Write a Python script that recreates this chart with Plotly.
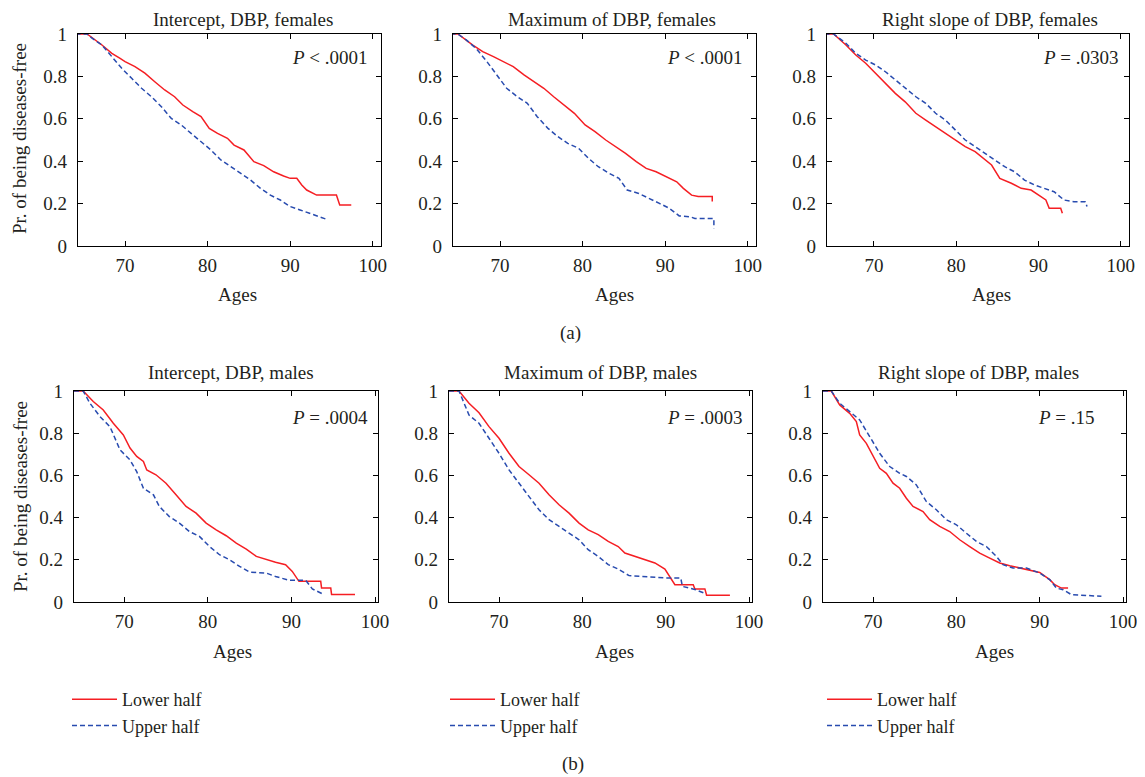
import plotly.graph_objects as go

W, H = 1145, 777
OFF = 8  # the page body adds an 8px margin around the figure
FONT = "Liberation Serif"
FS = 19
TXT = "#231f20"
RED = "rgb(245,30,35)"
BLUE = "rgb(40,75,175)"

# ---- data (age, probability disease-free) ----
# top row: females
ages_int_f_low = [64.0, 65.4, 67.2, 68.4, 69.4, 70.0, 71.2, 72.4, 73.6, 74.8, 76.0, 77.0, 78.2, 79.2, 80.2, 81.2,
                  82.4, 83.2, 84.4, 85.6, 86.8, 88.0, 89.2, 90.0, 90.8, 91.4, 92.0, 93.2, 95.6, 96.0, 97.4]
surv_int_f_low = [1.0, 1.0, 0.948, 0.909, 0.885, 0.87, 0.846, 0.815, 0.775, 0.736, 0.704, 0.665, 0.634, 0.61, 0.555,
                  0.531, 0.508, 0.476, 0.453, 0.398, 0.379, 0.35, 0.33, 0.319, 0.319, 0.288, 0.264, 0.24, 0.24, 0.193,
                  0.193]
ages_int_f_up = [64.0, 65.4, 66.0, 67.2, 68.4, 69.6, 70.8, 72.0, 73.2, 74.4, 75.6, 76.8, 78.0, 79.2, 80.4, 81.6,
                 82.8, 84.0, 85.2, 86.4, 87.6, 88.8, 90.0, 91.2, 92.4, 93.6, 94.4]
surv_int_f_up = [1.0, 1.0, 0.98, 0.948, 0.893, 0.838, 0.791, 0.744, 0.704, 0.657, 0.602, 0.571, 0.531, 0.492, 0.453,
                 0.406, 0.374, 0.343, 0.311, 0.272, 0.24, 0.217, 0.186, 0.17, 0.154, 0.138, 0.126]

ages_max_f_low = [64.0, 64.9, 66.7, 67.9, 69.2, 70.4, 71.6, 72.9, 74.1, 75.3, 76.5, 77.8, 79.0, 80.3, 81.5, 82.8,
                  84.0, 85.2, 86.5, 87.7, 88.9, 90.1, 91.4, 92.2, 93.2, 94.0, 95.7, 95.7]
surv_max_f_low = [1.0, 1.0, 0.948, 0.917, 0.893, 0.87, 0.846, 0.807, 0.775, 0.744, 0.704, 0.665, 0.626, 0.571, 0.539,
                  0.5, 0.469, 0.437, 0.398, 0.366, 0.35, 0.327, 0.303, 0.272, 0.24, 0.233, 0.233, 0.21]
ages_max_f_up = [64.0, 64.9, 65.9, 67.1, 68.4, 69.6, 70.8, 72.1, 73.3, 74.5, 75.8, 77.0, 78.2, 79.5, 80.7, 81.9,
                 83.2, 84.4, 85.4, 86.8, 88.1, 89.3, 90.5, 91.7, 93.0, 93.6, 95.9, 95.9]
surv_max_f_up = [1.0, 1.0, 0.972, 0.932, 0.87, 0.807, 0.744, 0.704, 0.673, 0.61, 0.555, 0.516, 0.484, 0.461, 0.414,
                 0.374, 0.343, 0.319, 0.264, 0.248, 0.225, 0.201, 0.178, 0.142, 0.138, 0.13, 0.13, 0.083]

ages_rs_f_low = [64.0, 65.1, 66.6, 67.8, 69.0, 70.2, 71.4, 72.6, 73.8, 75.1, 76.3, 77.5, 78.7, 79.9, 81.1, 82.3,
                 83.5, 84.3, 85.3, 86.7, 87.9, 89.1, 90.3, 90.9, 91.3, 92.7, 92.9]
surv_rs_f_low = [1.0, 1.0, 0.948, 0.901, 0.862, 0.814, 0.767, 0.72, 0.68, 0.626, 0.594, 0.563, 0.531, 0.5, 0.469,
                 0.445, 0.406, 0.382, 0.319, 0.296, 0.272, 0.264, 0.233, 0.217, 0.178, 0.178, 0.154]
ages_rs_f_up = [64.0, 65.1, 66.6, 67.8, 69.0, 70.2, 71.4, 72.6, 73.8, 75.1, 76.3, 77.5, 78.7, 79.9, 81.1, 82.3,
                83.5, 84.7, 85.9, 87.1, 88.3, 89.5, 90.7, 91.9, 93.1, 94.3, 95.7, 95.9]
surv_rs_f_up = [1.0, 1.0, 0.956, 0.909, 0.877, 0.854, 0.822, 0.783, 0.744, 0.704, 0.673, 0.626, 0.594, 0.547, 0.5,
                0.469, 0.437, 0.406, 0.374, 0.35, 0.311, 0.288, 0.272, 0.256, 0.217, 0.209, 0.209, 0.186]

# bottom row: males
ages_int_m_low = [64.0, 65.1, 66.3, 67.5, 68.7, 69.9, 70.7, 71.5, 72.3, 72.7, 73.8, 75.0, 76.2, 77.4, 78.6, 79.8,
                  81.0, 82.2, 83.4, 84.6, 85.8, 87.0, 88.1, 89.3, 90.1, 90.9, 92.1, 92.2, 93.5, 93.6, 94.7, 94.8, 97.6]
surv_int_m_low = [1.0, 1.0, 0.95, 0.91, 0.847, 0.792, 0.73, 0.69, 0.666, 0.626, 0.603, 0.563, 0.508, 0.453, 0.421,
                  0.374, 0.342, 0.314, 0.279, 0.251, 0.216, 0.2, 0.188, 0.177, 0.145, 0.098, 0.098, 0.098, 0.098,
                  0.066, 0.066, 0.035, 0.035]
ages_int_m_up = [64.0, 65.1, 65.9, 67.1, 68.3, 69.5, 70.7, 71.5, 72.3, 73.5, 74.2, 75.4, 76.6, 77.8, 79.0, 80.2,
                 81.4, 82.6, 83.8, 85.0, 87.0, 88.1, 89.7, 91.7, 92.5, 93.9]
surv_int_m_up = [1.0, 1.0, 0.942, 0.879, 0.831, 0.721, 0.673, 0.618, 0.539, 0.508, 0.453, 0.405, 0.374, 0.334, 0.311,
                 0.263, 0.224, 0.2, 0.169, 0.142, 0.137, 0.121, 0.103, 0.103, 0.062, 0.035]

ages_max_m_low = [64.0, 65.2, 66.4, 67.6, 68.8, 70.0, 71.2, 72.4, 73.6, 74.8, 76.0, 77.2, 78.4, 79.6, 80.7, 81.9,
                  83.1, 84.3, 85.1, 86.3, 87.5, 88.7, 89.9, 90.5, 91.1, 93.3, 93.5, 94.7, 94.9, 97.7]
surv_max_m_low = [1.0, 1.0, 0.942, 0.897, 0.831, 0.776, 0.705, 0.642, 0.603, 0.563, 0.508, 0.461, 0.421, 0.374,
                  0.342, 0.319, 0.287, 0.263, 0.232, 0.216, 0.2, 0.185, 0.156, 0.121, 0.082, 0.082, 0.062, 0.062,
                  0.032, 0.032]
ages_max_m_up = [64.0, 65.2, 66.4, 67.6, 68.8, 70.0, 71.2, 72.4, 73.6, 74.8, 76.0, 77.2, 78.4, 79.6, 80.7, 81.9,
                 83.1, 84.3, 85.6, 87.6, 90.0, 91.8, 92.0, 93.6, 94.8]
surv_max_m_up = [1.0, 1.0, 0.886, 0.847, 0.776, 0.705, 0.626, 0.563, 0.5, 0.437, 0.39, 0.358, 0.326, 0.295, 0.248,
                 0.216, 0.177, 0.156, 0.125, 0.121, 0.114, 0.114, 0.074, 0.058, 0.039]

ages_rs_m_low = [64.0, 65.0, 66.0, 67.2, 68.0, 68.4, 69.2, 70.0, 70.8, 71.6, 72.4, 73.2, 74.0, 74.8, 76.0, 76.8,
                 78.0, 79.2, 80.4, 81.6, 82.8, 84.0, 85.2, 86.4, 87.6, 88.8, 90.0, 90.4, 91.2, 91.8, 92.6, 93.4]
surv_rs_m_low = [1.0, 1.0, 0.934, 0.894, 0.855, 0.792, 0.752, 0.69, 0.634, 0.61, 0.563, 0.539, 0.492, 0.453, 0.429,
                 0.39, 0.358, 0.334, 0.295, 0.263, 0.232, 0.208, 0.185, 0.172, 0.161, 0.153, 0.14, 0.129, 0.106,
                 0.082, 0.066, 0.066]
ages_rs_m_up = [64.0, 65.0, 66.0, 67.2, 68.4, 69.6, 70.8, 72.0, 73.2, 74.0, 75.2, 76.4, 77.6, 78.8, 80.0, 81.2,
                82.4, 83.6, 84.8, 85.6, 86.8, 88.4, 90.0, 91.2, 92.0, 92.8, 93.8, 97.4]
surv_rs_m_up = [1.0, 1.0, 0.942, 0.902, 0.863, 0.784, 0.705, 0.642, 0.61, 0.595, 0.555, 0.476, 0.437, 0.39, 0.366,
                0.326, 0.287, 0.263, 0.216, 0.177, 0.161, 0.161, 0.137, 0.106, 0.066, 0.058, 0.035, 0.027]

titles = ["Intercept, DBP, females", "Maximum of DBP, females", "Right slope of DBP, females",
          "Intercept, DBP, males", "Maximum of DBP, males", "Right slope of DBP, males"]
p_labels = ["<i>P</i> < .0001", "<i>P</i> < .0001", "<i>P</i> = .0303",
            "<i>P</i> = .0004", "<i>P</i> = .0003", "<i>P</i> = .15"]
series_names = ["Lower half", "Upper half"]
x_ticks = [70, 80, 90, 100]
y_ticks = [0, 0.2, 0.4, 0.6, 0.8, 1]
y_ticktext = ["0", "0.2", "0.4", "0.6", "0.8", "1"]

panels = [
    (ages_int_f_low, surv_int_f_low, ages_int_f_up, surv_int_f_up),
    (ages_max_f_low, surv_max_f_low, ages_max_f_up, surv_max_f_up),
    (ages_rs_f_low, surv_rs_f_low, ages_rs_f_up, surv_rs_f_up),
    (ages_int_m_low, surv_int_m_low, ages_int_m_up, surv_int_m_up),
    (ages_max_m_low, surv_max_m_low, ages_max_m_up, surv_max_m_up),
    (ages_rs_m_low, surv_rs_m_low, ages_rs_m_up, surv_rs_m_up),
]

# layout, in pixels of the target picture
box_x = [(78, 381), (453, 756), (827, 1129), (74, 378), (449, 752), (823, 1126)]
row_y = [(34, 246), (391, 602)]
x_ranges = [[64.3, 101.0], [64.0, 100.35]]
title_pos = [(243, 16), (612, 16), (990, 16), (231, 372), (600, 372), (978, 372)]
ages_pos = [(237, 294), (614, 294), (991, 294), (233, 651), (614, 651), (994, 651)]
p_pos = [(370, 58), (745, 58), (1121, 58), (370, 417), (745, 417), (1097, 417)]
ylab_pos = [(20, 139), (20, 497)]
legend_x = [67, 445, 822]
legend_top = 681


def px(x):
    return (x - OFF) / W


def py(y):
    return 1 - (y - OFF) / H


def label(text, x, y, **kw):
    d = dict(text=text, x=px(x), y=py(y), xref="paper", yref="paper", showarrow=False,
             xanchor="center", yanchor="middle", font=dict(family=FONT, size=FS, color=TXT))
    d.update(kw)
    return d


fig = go.Figure()
annotations = []
legend_names = ["legend", "legend2", "legend3"]

for i, (xl, yl, xu, yu) in enumerate(panels):
    r, c = divmod(i, 3)
    n = "" if i == 0 else str(i + 1)
    x0, x1 = box_x[i]
    y0, y1 = row_y[r]
    show = r == 0
    fig.add_trace(go.Scatter(x=xl, y=yl, mode="lines", name=series_names[0],
                             line=dict(color=RED, width=1.5),
                             xaxis="x" + n, yaxis="y" + n,
                             showlegend=show, legend=legend_names[c]))
    fig.add_trace(go.Scatter(x=xu, y=yu, mode="lines", name=series_names[1],
                             line=dict(color=BLUE, width=1.5, dash="5px,3px"),
                             xaxis="x" + n, yaxis="y" + n,
                             showlegend=show, legend=legend_names[c]))
    axis_common = dict(showline=True, linecolor="black", linewidth=1.2, mirror="ticks",
                       ticks="inside", ticklen=5, tickcolor="black", showgrid=False, zeroline=False,
                       tickfont=dict(family=FONT, size=FS, color=TXT))
    fig.layout["xaxis" + n] = dict(axis_common, domain=[px(x0), px(x1)], range=x_ranges[r],
                                   tickvals=x_ticks, anchor="y" + n, ticklabelstandoff=2)
    fig.layout["yaxis" + n] = dict(axis_common, domain=[py(y1), py(y0)], range=[0, 1],
                                   tickvals=y_ticks, ticktext=y_ticktext, anchor="x" + n,
                                   ticklabelstandoff=6)

    if r == 0:
        # top-row titles sit against the page edge: hang them from the top so they are not clipped
        annotations.append(label(titles[i], title_pos[i][0], OFF, yanchor="top", borderpad=0))
    else:
        annotations.append(label(titles[i], *title_pos[i]))
    annotations.append(label("Ages", *ages_pos[i]))
    annotations.append(label(p_labels[i], *p_pos[i], xanchor="right"))
    if c == 0:
        annotations.append(label("Pr. of being diseases-free", *ylab_pos[r], textangle=-90))

annotations.append(label("(a)", 570, 333))
annotations.append(label("(b)", 573, 764))

legend_common = dict(xanchor="left", yanchor="top", bgcolor="rgba(0,0,0,0)", borderwidth=0,
                     font=dict(family=FONT, size=18, color=TXT), itemwidth=45)
fig.update_layout(
    width=W, height=H,
    margin=dict(l=0, r=0, t=0, b=0, autoexpand=False),
    paper_bgcolor="white", plot_bgcolor="white",
    annotations=annotations,
    legend=dict(legend_common, x=px(legend_x[0]), y=py(legend_top)),
    legend2=dict(legend_common, x=px(legend_x[1]), y=py(legend_top)),
    legend3=dict(legend_common, x=px(legend_x[2]), y=py(legend_top)),
)

fig.write_html("out.html")
